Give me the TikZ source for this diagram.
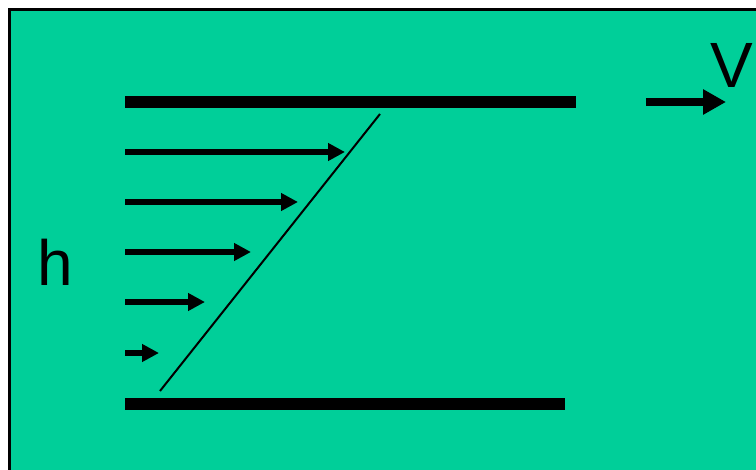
\documentclass[tikz,border=0pt]{standalone}
\usepackage{fontspec}
\setmainfont{Liberation Sans}
\usetikzlibrary{arrows.meta}
\definecolor{bggreen}{RGB}{0,207,153}

\begin{document}
\begin{tikzpicture}[x=0.75pt,y=-0.75pt]
\useasboundingbox (0,0) rectangle (756,470);
\clip (0,0) rectangle (756,470);
\fill[white] (0,0) rectangle (756,470);
\draw[line width=2.25pt,fill=bggreen] (9.5,9.5) rectangle (780,490);

\draw[line width=9pt] (125,102) -- (576,102);
\draw[line width=9pt] (125,404) -- (565,404);

\coordinate (L1) at (125,152);
\coordinate (L2) at (125,202);
\coordinate (L3) at (125,252);
\coordinate (L4) at (125,302);
\coordinate (L5) at (125,353);
\coordinate (R1) at (345,152);
\coordinate (R2) at (298,202);
\coordinate (R3) at (251,252);
\coordinate (R4) at (205,302);
\coordinate (R5) at (159,353);

\path[-{Triangle[length=12.75pt,width=12.75pt]},line width=4.5pt] (L1) edge [] node[]{} (R1);
\path[-{Triangle[length=12.75pt,width=12.75pt]},line width=4.5pt] (L2) edge [] node[]{} (R2);
\path[-{Triangle[length=12.75pt,width=12.75pt]},line width=4.5pt] (L3) edge [] node[]{} (R3);
\path[-{Triangle[length=12.75pt,width=12.75pt]},line width=4.5pt] (L4) edge [] node[]{} (R4);
\path[-{Triangle[length=12.75pt,width=12.75pt]},line width=4.5pt] (L5) edge [] node[]{} (R5);

\coordinate (P1) at (160,391);
\coordinate (P2) at (380,114);
\draw[line width=1.5pt] (P1) -- (P2);

\coordinate (V1) at (646,102);
\coordinate (V2) at (726,102);
\path[-{Triangle[length=17.25pt,width=18pt]},line width=6pt] (V1) edge [] node[]{} (V2);

\node[inner sep=0pt,anchor=base west,font=\fontsize{48}{50}\selectfont] (h) at (37,285) {h};
\node[inner sep=0pt,anchor=base west,font=\fontsize{48}{50}\selectfont] (V) at (710,88) {V};

\end{tikzpicture}
\end{document}
